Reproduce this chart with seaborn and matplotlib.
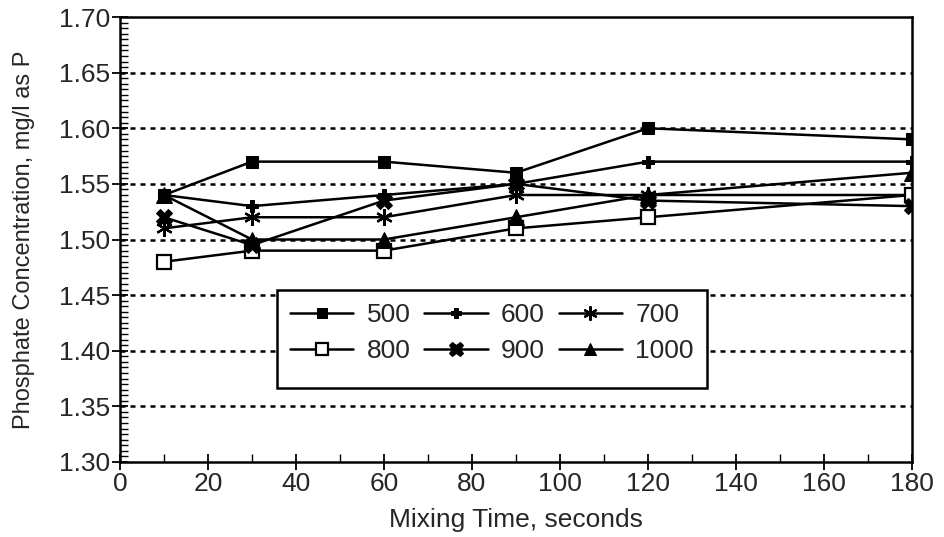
import matplotlib
matplotlib.use("Agg")
import matplotlib.pyplot as plt
import seaborn as sns
import pandas as pd
import numpy as np
from matplotlib.ticker import MultipleLocator
from matplotlib.patches import Rectangle

times = [10, 30, 60, 90, 120, 180]
s500 = [1.54, 1.57, 1.57, 1.56, 1.60, 1.59]
s600 = [1.54, 1.53, 1.54, 1.55, 1.57, 1.57]
s700 = [1.51, 1.52, 1.52, 1.54, 1.54, 1.54]
s800 = [1.48, 1.49, 1.49, 1.51, 1.52, 1.54]
s900 = [1.52, 1.495, 1.535, 1.55, 1.535, 1.53]
s1000 = [1.54, 1.50, 1.50, 1.52, 1.54, 1.56]
labels = ["500", "600", "700", "800", "900", "1000"]
series = [s500, s600, s700, s800, s900, s1000]

rows = []
for lab, vals in zip(labels, series):
    for t, v in zip(times, vals):
        rows.append({"time": t, "conc": v, "series": lab})
df = pd.DataFrame(rows)

sns.set_style("white")
plt.rcParams['font.family'] = ['Liberation Sans', 'DejaVu Sans']

fig = plt.figure(figsize=(9.45, 5.37), dpi=100)
ax = fig.add_axes([0.127, 0.1397, 0.838, 0.8286])

styles = {
    "500": dict(marker="s", ms=9, mfc="black", mec="black"),
    "600": dict(marker="P", ms=8, mfc="black", mec="black"),
    "700": dict(marker=(6, 2, 0), ms=12, mfc="black", mec="black", mew=1.6),
    "800": dict(marker="s", ms=10, mfc="white", mec="black", mew=1.6),
    "900": dict(marker="X", ms=12, mfc="black", mec="black"),
    "1000": dict(marker="^", ms=11, mfc="black", mec="black"),
}

for lab in labels:
    sub = df[df["series"] == lab]
    sns.lineplot(data=sub, x="time", y="conc", ax=ax, color="black", lw=1.8,
                 label=lab, legend=False, **styles[lab])

lines = {l.get_label(): l for l in ax.get_lines()}

ax.set_xlim(0, 180)
ax.set_ylim(1.30, 1.70)
ax.xaxis.set_major_locator(MultipleLocator(20))
ax.xaxis.set_minor_locator(MultipleLocator(10))
ax.yaxis.set_major_locator(MultipleLocator(0.05))
ax.yaxis.set_minor_locator(MultipleLocator(0.005))
ax.yaxis.set_major_formatter(matplotlib.ticker.FormatStrFormatter("%.2f"))

ax.tick_params(axis="both", which="major", direction="inout", length=12, width=1.3,
               labelsize=19, color="black", pad=1)
ax.tick_params(axis="both", which="minor", direction="in", length=6, width=1.0, color="black")
ax.tick_params(axis="x", which="both", bottom=True)
ax.tick_params(axis="y", which="both", left=True)

for y in np.arange(1.35, 1.66, 0.05):
    ax.axhline(y, color="black", ls=(0, (2, 2)), lw=1.8, zorder=0)

for sp in ax.spines.values():
    sp.set_visible(True)
    sp.set_color("black")
    sp.set_linewidth(1.8)

ax.set_xlabel("Mixing Time, seconds", fontsize=19, labelpad=9)
ax.set_ylabel("Phosphate Concentration, mg/l as P", fontsize=17, labelpad=17)

# legend box
box = (0.198, 0.166, 0.543, 0.221)
ax.add_patch(Rectangle((box[0], box[1]), box[2], box[3], transform=ax.transAxes,
                       facecolor="white", edgecolor="black", lw=1.8, zorder=4))

order = ["500", "800", "600", "900", "700", "1000"]
leg = ax.legend([lines[k] for k in order], order, ncol=3, loc="upper left",
                bbox_to_anchor=box, mode="expand",
                fontsize=19, frameon=False, markerscale=0.85,
                handlelength=2.4, handletextpad=0.5, columnspacing=1.0,
                borderaxespad=0, borderpad=0.5, labelspacing=0.45)
leg.set_zorder(5)

fig.savefig("out.png", dpi=100)
